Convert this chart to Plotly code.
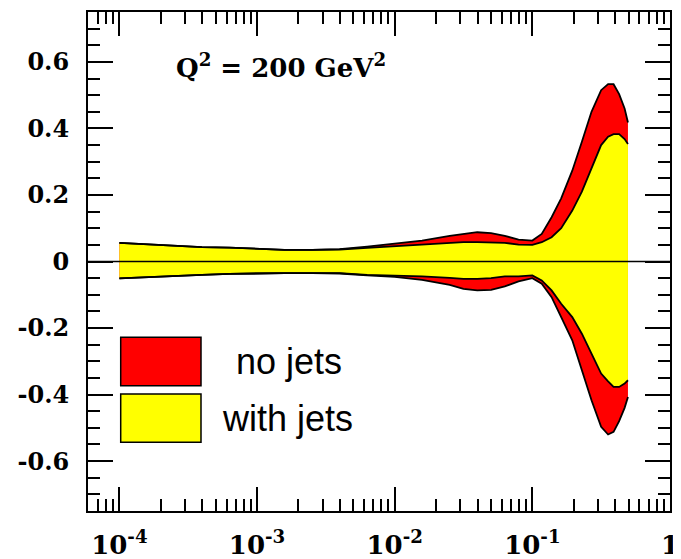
import plotly.graph_objects as go

# x values (momentum fraction), log-spaced sample points
x_vals = [1.0e-4, 1.58e-4, 2.51e-4, 3.98e-4, 6.31e-4, 1.0e-3, 1.58e-3, 2.51e-3, 3.98e-3,
          6.31e-3, 1.0e-2, 1.58e-2, 2.51e-2, 3.16e-2, 3.98e-2, 5.01e-2, 6.31e-2, 7.94e-2,
          1.0e-1, 1.17e-1, 1.38e-1, 1.62e-1, 1.95e-1, 2.29e-1, 2.69e-1, 3.16e-1, 3.55e-1,
          3.89e-1, 4.27e-1, 4.68e-1, 4.95e-1]

# "no jets" band (red)
nojets_upper = [0.056, 0.051, 0.047, 0.043, 0.042, 0.038, 0.035, 0.035, 0.037, 0.045,
                0.053, 0.063, 0.077, 0.083, 0.088, 0.085, 0.077, 0.066, 0.063, 0.083,
                0.133, 0.190, 0.273, 0.360, 0.450, 0.515, 0.533, 0.533, 0.503, 0.460, 0.418]
nojets_lower = [-0.051, -0.047, -0.042, -0.040, -0.037, -0.035, -0.035, -0.035, -0.036, -0.042,
                -0.046, -0.055, -0.070, -0.082, -0.087, -0.085, -0.075, -0.060, -0.050, -0.067,
                -0.107, -0.167, -0.237, -0.327, -0.417, -0.497, -0.520, -0.512, -0.480, -0.440, -0.407]

# "with jets" band (yellow)
jets_upper = [0.056, 0.051, 0.047, 0.043, 0.042, 0.038, 0.035, 0.035, 0.036, 0.041,
              0.046, 0.051, 0.056, 0.058, 0.058, 0.058, 0.056, 0.051, 0.050, 0.058,
              0.073, 0.100, 0.153, 0.210, 0.283, 0.350, 0.375, 0.383, 0.383, 0.368, 0.353]
jets_lower = [-0.051, -0.047, -0.042, -0.040, -0.037, -0.035, -0.035, -0.035, -0.035, -0.040,
              -0.042, -0.045, -0.049, -0.052, -0.052, -0.050, -0.045, -0.045, -0.042, -0.057,
              -0.087, -0.127, -0.167, -0.217, -0.277, -0.337, -0.360, -0.377, -0.377, -0.367, -0.357]

x_tickvals = [1e-4, 1e-3, 1e-2, 1e-1, 1]
x_ticktext = ["10<sup>-4</sup>", "10<sup>-3</sup>", "10<sup>-2</sup>", "10<sup>-1</sup>", "1"]
y_tickvals = [-0.6, -0.4, -0.2, 0, 0.2, 0.4, 0.6]
y_ticktext = ["-0.6", "-0.4", "-0.2", "0", "0.2", "0.4", "0.6"]

legend_labels = ["no jets", "with jets"]
RED = "#ff0000"
YELLOW = "#ffff00"

fig = go.Figure()

def band(upper, lower, color):
    fig.add_trace(go.Scatter(
        x=x_vals + x_vals[::-1], y=upper + lower[::-1],
        fill="toself", fillcolor=color, mode="lines",
        line=dict(width=0, color=color), hoverinfo="skip", showlegend=False))

def edge(vals):
    fig.add_trace(go.Scatter(x=x_vals, y=vals, mode="lines",
                             line=dict(color="black", width=1.8),
                             hoverinfo="skip", showlegend=False))

band(nojets_upper, nojets_lower, RED)
band(jets_upper, jets_lower, YELLOW)
for arr in (nojets_upper, nojets_lower, jets_upper, jets_lower):
    edge(arr)

fig.update_xaxes(
    type="log", range=[-4.228, 0.0],
    tickvals=x_tickvals, ticktext=x_ticktext,
    tickfont=dict(family="DejaVu Serif", size=26, color="black", weight="bold"),
    ticks="inside", ticklen=24, tickwidth=2, tickcolor="black",
    minor=dict(ticks="inside", ticklen=12, tickwidth=2, tickcolor="black", dtick="D1"),
    showline=True, linewidth=2, linecolor="black", mirror="ticks",
    showgrid=False, zeroline=False, ticklabelstandoff=10, automargin=False,
)
fig.update_yaxes(
    range=[-0.75, 0.75],
    tickvals=y_tickvals, ticktext=y_ticktext,
    tickfont=dict(family="DejaVu Serif", size=24, color="black", weight="bold"),
    ticks="inside", ticklen=25, tickwidth=2, tickcolor="black",
    minor=dict(ticks="inside", ticklen=12, tickwidth=2, tickcolor="black", dtick=0.05, tick0=0),
    showline=True, linewidth=2, linecolor="black", mirror="ticks",
    showgrid=False, zeroline=False, ticklabelstandoff=12, automargin=False,
)

# zero line drawn above the bands
fig.add_shape(type="line", xref="paper", x0=0, x1=1, yref="y", y0=0, y1=0,
              line=dict(color="black", width=1.5), layer="above")

# page offset (browser body margin) and plot-area geometry in page pixels
OFF = 8.0
W, H = 582.0, 499.0
L0, T0 = 88.0, 12.0
def px(xp):
    return (xp - L0) / W
def py(yp):
    return 1 - (yp - T0) / H

boxes = [(337.3, 385.7, RED), (394.0, 442.3, YELLOW)]
for (top, bot, col), label, tx in zip(boxes, legend_labels, [234, 220]):
    fig.add_shape(type="rect", xref="paper", yref="paper",
                  x0=px(120.7), x1=px(201.0), y0=py(bot), y1=py(top),
                  fillcolor=col, line=dict(color="black", width=1.5), layer="above")
    fig.add_annotation(xref="paper", yref="paper", x=px(tx), y=py((top + bot) / 2),
                       text=label, showarrow=False, xanchor="left", yanchor="middle",
                       font=dict(family="Liberation Sans", size=36, color="black"))

fig.add_annotation(xref="paper", yref="paper", x=px(174), y=py(66),
                   text="Q<sup>2</sup> = 200 GeV<sup>2</sup>", showarrow=False,
                   xanchor="left", yanchor="middle",
                   font=dict(family="DejaVu Serif", size=26, color="black", weight="bold"))

fig.update_layout(
    width=681 - int(OFF), height=559 - int(OFF),
    margin=dict(l=88 - int(OFF), r=11, t=12 - int(OFF), b=48),
    paper_bgcolor="white", plot_bgcolor="white",
    showlegend=False,
)

fig.write_html("out.html")
